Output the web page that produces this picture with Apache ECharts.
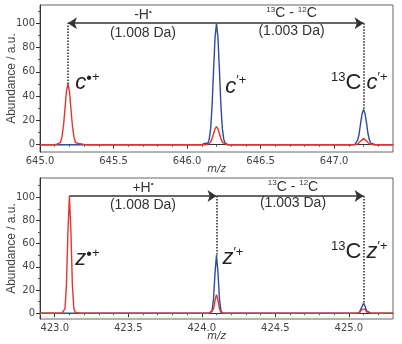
<!DOCTYPE html>
<html>
<head>
<meta charset="utf-8">
<script src="https://cdn.jsdelivr.net/npm/echarts@6/dist/echarts.min.js"></script>
<style>
  html, body { margin: 0; padding: 0; background: #fff; }
  #chart { width: 402px; height: 344px; }
</style>
</head>
<body>
<div id="chart"></div>
<script>
// top panel (c ions), [m/z, abundance]
const topRed = [
  [645.00, 0], [645.10, 0], [645.12, 0.6], [645.13, 0], [645.14, 2], [645.15, 7], [645.16, 16],
  [645.17, 30], [645.18, 44], [645.19, 50], [645.20, 44], [645.21, 30], [645.22, 16], [645.23, 7],
  [645.24, 2], [645.25, 0.5], [645.26, 1], [645.27, 0], [645.30, 0.3], [645.32, 0],
  [646.12, 0], [646.14, 0.3], [646.15, 0.6], [646.16, 2], [646.17, 5], [646.18, 9], [646.19, 13],
  [646.20, 15], [646.21, 13], [646.22, 9], [646.23, 5], [646.24, 2], [646.25, 0.6], [646.27, 0],
  [647.14, 0], [647.15, 0.2], [647.16, 0.6], [647.17, 1.6], [647.18, 3], [647.19, 4.4], [647.20, 5],
  [647.21, 4.4], [647.22, 3], [647.23, 1.6], [647.24, 0.6], [647.25, 0.2], [647.27, 0], [647.40, 0]
];
const topBlue = [
  [645.00, 0], [646.10, 0], [646.12, 1.2], [646.13, 0.3], [646.14, 1], [646.15, 4], [646.16, 13],
  [646.17, 32], [646.18, 61], [646.19, 88], [646.20, 100], [646.21, 88], [646.22, 61], [646.23, 32],
  [646.24, 13], [646.25, 4], [646.26, 1], [646.27, 1.5], [646.28, 0],
  [647.12, 0], [647.14, 0.3], [647.15, 1.2], [647.16, 3.8], [647.17, 9], [647.18, 18], [647.19, 25.5],
  [647.20, 29], [647.21, 25.5], [647.22, 18], [647.23, 9], [647.24, 3.8], [647.25, 1.2], [647.26, 0.3],
  [647.28, 0], [647.40, 0]
];
// bottom panel (z ions)
const botRed = [
  [422.90, 0], [423.05, 0], [423.06, 0.5], [423.07, 4], [423.08, 25], [423.09, 71], [423.10, 101],
  [423.11, 71], [423.12, 25], [423.13, 4], [423.14, 0.8], [423.15, 0.3], [423.17, 0],
  [424.04, 0], [424.06, 0.2], [424.07, 0.6], [424.08, 4], [424.09, 11], [424.10, 16], [424.11, 11],
  [424.12, 4], [424.13, 0.6], [424.15, 0],
  [425.05, 0], [425.07, 0.2], [425.08, 1.2], [425.09, 3.5], [425.10, 5], [425.11, 3.5], [425.12, 1.2],
  [425.13, 0.2], [425.15, 0], [425.30, 0]
];
const botBlue = [
  [422.90, 0], [424.05, 0], [424.07, 2.2], [424.08, 12.5], [424.09, 35], [424.10, 50], [424.11, 35],
  [424.12, 12.5], [424.13, 2.2], [424.14, 0.3], [424.16, 0],
  [425.05, 0], [425.07, 0.4], [425.08, 2.1], [425.09, 6], [425.10, 8.5], [425.11, 6], [425.12, 2.1],
  [425.13, 0.4], [425.15, 0], [425.30, 0]
];

// peak positions used for the annotations
const topPeaks = { rad: [645.19, 50], main: [646.20, 100], iso: [647.20, 29] };
const botPeaks = { rad: [423.10, 101], main: [424.10, 50], iso: [425.10, 8.5] };

// tick labels
const topXTicks = [645.0, 645.5, 646.0, 646.5, 647.0];
const topXMinor = [645.1, 645.2, 645.3, 645.4, 645.6, 645.7, 645.8, 645.9, 646.1, 646.2, 646.3, 646.4,
  646.6, 646.7, 646.8, 646.9, 647.1, 647.2, 647.3];
const botXTicks = [423.0, 423.5, 424.0, 424.5, 425.0];
const botXMinor = [422.9, 423.1, 423.2, 423.3, 423.4, 423.6, 423.7, 423.8, 423.9, 424.1, 424.2, 424.3,
  424.4, 424.6, 424.7, 424.8, 424.9, 425.1, 425.2];
const yTicks = [0, 20, 40, 60, 80, 100];
const yMinor = [10, 30, 50, 70, 90, 110];

const RED = '#e3342b';
const BLUE = '#2d4c9f';
const INK = '#222';

const labelFont = { fontFamily: 'DejaVu Sans', fontSize: 10, color: '#444' };

function majorX(grid, min, max, ticks) {
  return {
    type: 'value', gridIndex: grid, min: min, max: max, position: 'bottom',
    name: 'm/z', nameLocation: 'middle', nameGap: 12, nameMoveOverlap: false,
    nameTextStyle: { fontFamily: 'DejaVu Sans', fontSize: 10, fontStyle: 'italic', color: '#333' },
    axisLine: { lineStyle: { color: '#333', width: 1 } },
    axisTick: { customValues: ticks, length: 4, lineStyle: { color: '#333' } },
    axisLabel: Object.assign({ customValues: ticks, margin: 4, formatter: v => v.toFixed(1) }, labelFont),
    splitLine: { show: false }
  };
}
function minorX(grid, min, max, ticks) {
  return {
    type: 'value', gridIndex: grid, min: min, max: max, position: 'bottom',
    axisLine: { show: false },
    axisTick: { customValues: ticks, length: 2, lineStyle: { color: '#555' } },
    axisLabel: { show: false }, splitLine: { show: false }
  };
}
function majorY(grid, min, max) {
  return {
    type: 'value', gridIndex: grid, min: min, max: max, position: 'left',
    name: 'Abundance / a.u.', nameLocation: 'middle', nameGap: 22, nameMoveOverlap: false,
    nameTextStyle: { fontFamily: 'Liberation Sans', fontSize: 12, color: '#444' },
    axisLine: { show: true, lineStyle: { color: '#333', width: 1 } },
    axisTick: { show: true, customValues: yTicks, length: 4, lineStyle: { color: '#333' } },
    axisLabel: Object.assign({ customValues: yTicks, margin: 5 }, labelFont),
    splitLine: { show: false }
  };
}
function minorY(grid, min, max) {
  return {
    type: 'value', gridIndex: grid, min: min, max: max, position: 'left',
    axisLine: { show: false },
    axisTick: { show: true, customValues: yMinor, length: 2, lineStyle: { color: '#555' } },
    axisLabel: { show: false }, splitLine: { show: false }
  };
}

const arrowLine = { type: 'solid', color: '#333', width: 1.5 };
const dotLine = { type: 'dotted', color: INK, width: 1.5 };

const annoRich = {
  t: { fontFamily: 'Liberation Sans', fontSize: 14, color: '#333', lineHeight: 16 },
  s: { fontFamily: 'Liberation Sans', fontSize: 8, color: '#333', verticalAlign: 'top', lineHeight: 9 }
};
const ionRich = {
  it: { fontFamily: 'Liberation Sans', fontSize: 22, fontStyle: 'italic', color: INK, lineHeight: 24 },
  big: { fontFamily: 'Liberation Sans', fontSize: 22, color: INK, lineHeight: 24 },
  sup: { fontFamily: 'Liberation Sans', fontSize: 13, color: INK, verticalAlign: 'top', lineHeight: 14 },
  dot: { fontFamily: 'Liberation Sans', fontSize: 16, color: INK, verticalAlign: 'top', lineHeight: 14 }
};

function textPoint(coord, text, pos, rich) {
  return {
    coord: coord, symbol: 'circle', symbolSize: 0,
    label: { show: true, position: pos, distance: 0, formatter: text, rich: rich }
  };
}

function annotations(p, levelY, leftArrowToRad, texts) {
  const lines = [
    leftArrowToRad
      ? [{ coord: [p.rad[0], p.rad[1]], symbol: 'none' }, { coord: [p.rad[0], levelY], symbol: 'none', lineStyle: dotLine }]
      : [{ coord: [p.main[0], levelY], symbol: 'none' }, { coord: [p.main[0], p.main[1]], symbol: 'none', lineStyle: dotLine }],
    leftArrowToRad
      ? [{ coord: [p.main[0], levelY], symbol: 'none' }, { coord: [p.rad[0], levelY], symbol: 'arrow', lineStyle: arrowLine }]
      : [{ coord: [p.rad[0], levelY], symbol: 'none' }, { coord: [p.main[0], levelY], symbol: 'arrow', lineStyle: arrowLine }],
    [{ coord: [p.main[0], levelY], symbol: 'none' }, { coord: [p.iso[0], levelY], symbol: 'arrow', lineStyle: arrowLine }],
    [{ coord: [p.iso[0], levelY], symbol: 'none' }, { coord: [p.iso[0], p.iso[1]], symbol: 'none', lineStyle: dotLine }]
  ];
  return {
    markLine: {
      silent: true, animation: false, symbolSize: 9,
      label: { show: false },
      data: lines
    },
    markPoint: {
      silent: true, animation: false,
      data: texts
    }
  };
}

const topAnno = annotations(topPeaks, 100, true, [
  textPoint([645.70, 106.5], '{t|-H}{s|•}', 'inside', annoRich),
  textPoint([645.70, 92], '{t|(1.008 Da)}', 'inside', annoRich),
  textPoint([646.71, 108], '{s|13}{t|C - }{s|12}{t|C}', 'inside', annoRich),
  textPoint([646.71, 93.5], '{t|(1.003 Da)}', 'inside', annoRich),
  textPoint([645.24, 51], '{it|c}{dot|•}{sup|+}', 'right', ionRich),
  textPoint([646.26, 48], '{it|c}{sup|′+}', 'right', ionRich),
  textPoint([647.185, 51], '{sup|13}{big|C}', 'left', ionRich),
  textPoint([647.22, 51], '{it|c}{sup|′+}', 'right', ionRich)
]);
const botAnno = annotations(botPeaks, 101, false, [
  textPoint([423.60, 108], '{t|+H}{s|•}', 'inside', annoRich),
  textPoint([423.60, 93], '{t|(1.008 Da)}', 'inside', annoRich),
  textPoint([424.62, 109], '{s|13}{t|C - }{s|12}{t|C}', 'inside', annoRich),
  textPoint([424.62, 94.5], '{t|(1.003 Da)}', 'inside', annoRich),
  textPoint([423.14, 47], '{it|z}{dot|•}{sup|+}', 'right', ionRich),
  textPoint([424.14, 48], '{it|z}{sup|′+}', 'right', ionRich),
  textPoint([425.085, 53], '{sup|13}{big|C}', 'left', ionRich),
  textPoint([425.12, 53], '{it|z}{sup|′+}', 'right', ionRich)
]);

const chart = echarts.init(document.getElementById('chart'), null, { renderer: 'canvas' });

const option = {
  animation: false,
  backgroundColor: '#fff',
  grid: [
    { left: 40, top: 5, width: 353, height: 147, show: true, borderColor: '#666', borderWidth: 1,
      containLabel: false, outerBoundsMode: 'none' },
    { left: 40, top: 178, width: 353, height: 141, show: true, borderColor: '#666', borderWidth: 1,
      containLabel: false, outerBoundsMode: 'none' }
  ],
  xAxis: [
    majorX(0, 645.0, 647.4, topXTicks),
    minorX(0, 645.0, 647.4, topXMinor),
    majorX(1, 422.9, 425.3, botXTicks),
    minorX(1, 422.9, 425.3, botXMinor)
  ],
  yAxis: [
    majorY(0, -6, 115),
    minorY(0, -6, 115),
    majorY(1, -5, 116.5),
    minorY(1, -5, 116.5)
  ],
  series: [
    { type: 'line', xAxisIndex: 0, yAxisIndex: 0, data: topBlue, showSymbol: false,
      lineStyle: { color: BLUE, width: 1.4 }, itemStyle: { color: BLUE } },
    Object.assign({ type: 'line', xAxisIndex: 0, yAxisIndex: 0, data: topRed, showSymbol: false,
      lineStyle: { color: RED, width: 1.4 }, itemStyle: { color: RED } }, topAnno),
    { type: 'line', xAxisIndex: 2, yAxisIndex: 2, data: botBlue, showSymbol: false,
      lineStyle: { color: BLUE, width: 1.4 }, itemStyle: { color: BLUE } },
    Object.assign({ type: 'line', xAxisIndex: 2, yAxisIndex: 2, data: botRed, showSymbol: false,
      lineStyle: { color: RED, width: 1.4 }, itemStyle: { color: RED } }, botAnno)
  ]
};

chart.setOption(option);
</script>
</body>
</html>
